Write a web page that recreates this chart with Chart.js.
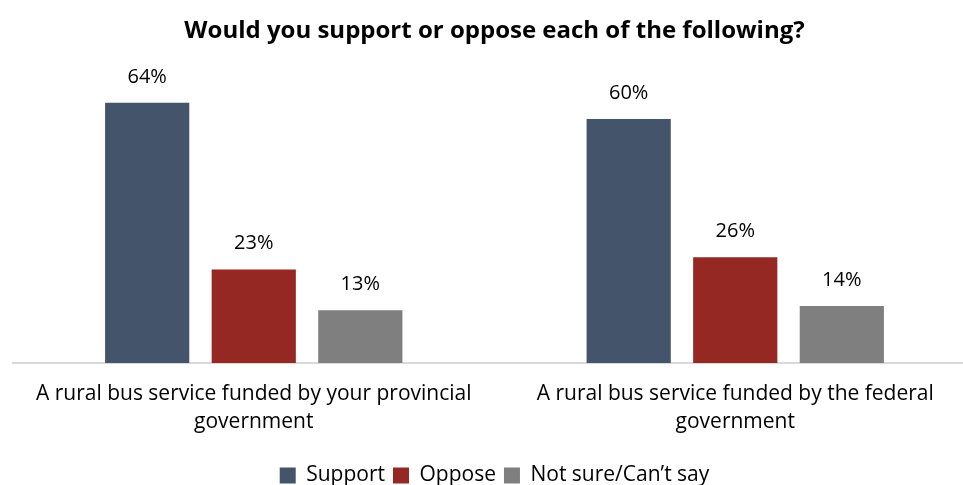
<!DOCTYPE html>
<html>
<head>
<meta charset="utf-8">
<script src="https://cdn.jsdelivr.net/npm/chart.js@4/dist/chart.umd.min.js"></script>
<style>
  html, body { margin: 0; padding: 0; background: #fff; overflow: hidden; }
  #wrap { position: relative; width: 976px; height: 496px; }
</style>
</head>
<body>
<div id="wrap"><canvas id="supportChart"></canvas></div>
<script>
// Survey items and answer shares (%)
const categories = [
    ['A rural bus service funded by your provincial', 'government'],
    ['A rural bus service funded by the federal', 'government']
];
const supportValues = [64, 60];
const opposeValues = [23, 26];
const notSureValues = [13, 14];

const seriesNames = ['Support', 'Oppose', 'Not sure/Can\u2019t say'];
const seriesColors = ['#44546A', '#952823', '#7F7F7F'];

const fontFamily = "'Open Sans', sans-serif";

// Draws the percentage above each bar
const valueLabels = {
    id: 'valueLabels',
    afterDatasetsDraw(chart) {
        const ctx = chart.ctx;
        ctx.save();
        ctx.font = '20px ' + fontFamily;
        ctx.fillStyle = '#000';
        ctx.textAlign = 'center';
        ctx.textBaseline = 'middle';
        chart.data.datasets.forEach((ds, i) => {
            chart.getDatasetMeta(i).data.forEach((bar, j) => {
                ctx.fillText(ds.data[j] + '%', bar.x, bar.y - 26);
            });
        });
        ctx.restore();
    }
};

const ctx = document.getElementById('supportChart').getContext('2d');
new Chart(ctx, {
    type: 'bar',
    data: {
        labels: categories,
        datasets: [supportValues, opposeValues, notSureValues].map((values, i) => ({
            label: seriesNames[i],
            data: values,
            backgroundColor: seriesColors[i],
            categoryPercentage: 0.664,
            barPercentage: 0.79
        }))
    },
    options: {
        responsive: true,
        maintainAspectRatio: false,
        animation: false,
        layout: { padding: { left: 13, right: 0, top: 0, bottom: 0 } },
        plugins: {
            title: {
                display: true,
                text: 'Would you support or oppose each of the following?',
                color: '#000',
                font: { family: fontFamily, size: 24, weight: 'bold' },
                padding: { top: 17, bottom: 18 }
            },
            legend: {
                position: 'bottom',
                labels: {
                    color: '#000',
                    font: { family: fontFamily, size: 21 },
                    boxWidth: 16,
                    boxHeight: 16,
                    padding: 8
                }
            },
            tooltip: { enabled: false }
        },
        scales: {
            x: {
                grid: { display: false },
                border: { color: '#D9D9D9', width: 2 },
                ticks: {
                    color: '#000',
                    font: { family: fontFamily, size: 21, lineHeight: 1.33 },
                    padding: 9,
                    maxRotation: 0
                },
                // leave room between the two-line labels and the legend
                afterFit(scale) {
                    scale.height = 94;
                }
            },
            y: {
                display: false,
                min: 0,
                max: 73.6
            }
        }
    },
    plugins: [valueLabels]
});
</script>
</body>
</html>
